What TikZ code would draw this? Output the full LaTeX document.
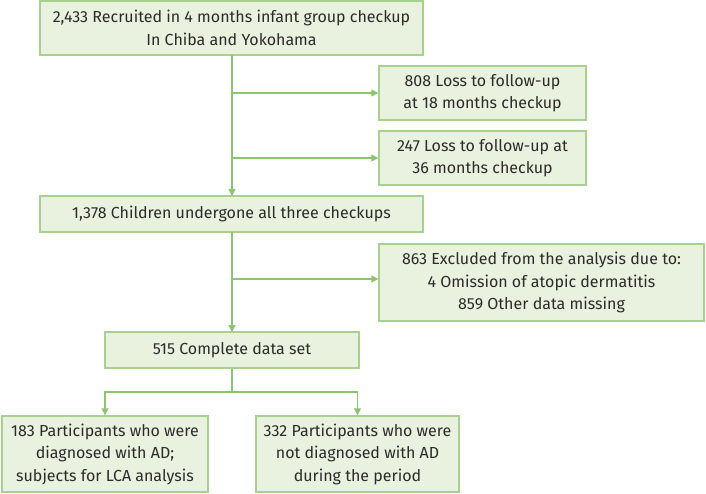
\documentclass[tikz,border=0pt]{standalone}
\usepackage{fontspec}
\setmainfont{Fira Sans}
\usetikzlibrary{arrows.meta}
\definecolor{boxfill}{HTML}{E9F1DF}
\definecolor{boxline}{HTML}{A9D18E}
\definecolor{conn}{HTML}{8CC56B}
\definecolor{txt}{HTML}{2B2B2B}
\begin{document}
\begin{tikzpicture}[x=1pt,y=1pt,
  box/.style={draw=boxline,fill=boxfill,line width=1.4pt,inner sep=0pt,align=center,
    text=txt,font=\fontsize{16}{22.5}\selectfont},
  conline/.style={draw=conn,line width=1.3pt},
  arr/.style={conline,-{Triangle[width=7pt,length=7pt]}}]
\useasboundingbox (0,0) rectangle (706,-494);
\node[box,minimum width=383,minimum height=54] (b1) at (231.5,-28) {2,433 Recruited in 4 months infant group checkup\\In Chiba and Yokohama};
\node[box,minimum width=207,minimum height=54] (b808) at (482.5,-93) {808 Loss to follow-up\\at 18 months checkup};
\node[box,minimum width=207,minimum height=54] (b247) at (482.5,-158) {247 Loss to follow-up at\\36 months checkup};
\node[box,minimum width=383,minimum height=36] (b1378) at (231.5,-214) {1,378 Children undergone all three checkups};
\node[box,minimum width=325,minimum height=77] (b863) at (541.5,-282.5) {863 Excluded from the analysis due to:\\4 Omission of atopic dermatitis\\859 Other data missing};
\node[box,minimum width=254,minimum height=36] (b515) at (232,-350) {515 Complete data set};
\node[box,minimum width=206,minimum height=76] (b183) at (105,-454) {183 Participants who were\\diagnosed with AD;\\subjects for LCA analysis};
\node[box,minimum width=203,minimum height=76] (b332) at (357.5,-454) {332 Participants who were\\not diagnosed with AD\\during the period};
\coordinate (s1) at (232,-55);
\coordinate (j1) at (232,-93);
\coordinate (j2) at (232,-158);
\coordinate (e1) at (232,-196);
\coordinate (s2) at (232,-232);
\coordinate (j3) at (232,-279);
\coordinate (e2) at (232,-332);
\coordinate (j4) at (232,-392);
\draw[arr] (s1) -- (e1);
\draw[arr] (j1) -- (b808.west);
\draw[arr] (j2) -- (b247.west);
\draw[arr] (s2) -- (e2);
\draw[arr] (j3) -- (j3 -| b863.west);
\draw[conline] (b515.south) -- (j4);
\draw[arr] (j4) -| (b183.north);
\draw[arr] (j4) -| (b332.north);
\end{tikzpicture}
\end{document}
